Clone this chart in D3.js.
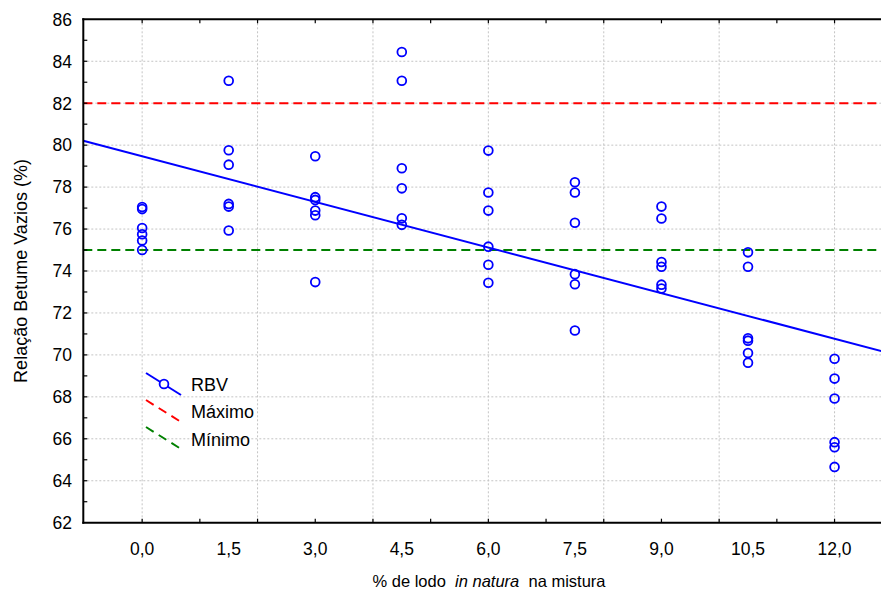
<!DOCTYPE html>
<html>
<head>
<meta charset="utf-8">
<script src="https://cdn.jsdelivr.net/npm/d3@7"></script>
<style>
  html, body { margin: 0; padding: 0; background: #fff; }
  svg { display: block; font-family: "Liberation Sans", Arial, sans-serif; }
</style>
</head>
<body>
<svg id="chart" width="881" height="591"></svg>
<script>
// ---- data ----
const xLevels = [0, 1.5, 3.0, 4.5, 6.0, 7.5, 9.0, 10.5, 12.0];
const rbv0   = [77.05, 76.95, 76.05, 75.75, 75.45, 75.0];
const rbv15  = [83.07, 79.76, 79.07, 77.2, 77.07, 75.93];
const rbv30  = [79.47, 77.52, 77.39, 76.88, 76.66, 73.47];
const rbv45  = [84.44, 83.07, 78.9, 77.94, 76.51, 76.2];
const rbv60  = [79.74, 77.74, 76.88, 75.16, 74.3, 73.44];
const rbv75  = [78.23, 77.74, 76.3, 73.85, 73.37, 71.16];
const rbv90  = [77.07, 76.5, 74.43, 74.2, 73.35, 73.16];
const rbv105 = [74.89, 74.2, 70.79, 70.68, 70.09, 69.63];
const rbv120 = [69.82, 68.87, 67.92, 65.84, 65.6, 64.66];
const rbvGroups = [rbv0, rbv15, rbv30, rbv45, rbv60, rbv75, rbv90, rbv105, rbv120];
const maxLimit = 82;
const minLimit = 75;
const xTickLabels = [0, 1.5, 3.0, 4.5, 6.0, 7.5, 9.0, 10.5, 12.0];
const yTickLabels = [62, 64, 66, 68, 70, 72, 74, 76, 78, 80, 82, 84, 86];
const legendNames = ["RBV", "Máximo", "Mínimo"];

// ---- layout ----
const svg = d3.select("#chart");
const L = 83.3, T = 19.3, B = 522.7;
const x = d3.scaleLinear().domain([-1.02, 13]).range([L, L + 14.02 * 57.7]);
const y = d3.scaleLinear().domain([62, 86]).range([B, T]);
const R = x.range()[1];
const FS = 17.5;

const points = [];
xLevels.forEach((xv, i) => rbvGroups[i].forEach(v => points.push({x: xv, y: v})));

// least squares fit
const mx = d3.mean(points, d => d.x), my = d3.mean(points, d => d.y);
const sxy = d3.sum(points, d => (d.x - mx) * (d.y - my));
const sxx = d3.sum(points, d => (d.x - mx) ** 2);
const slope = sxy / sxx, intercept = my - slope * mx;

svg.append("defs").append("clipPath").attr("id", "clip")
  .append("rect").attr("x", L).attr("y", T).attr("width", R - L).attr("height", B - T);

const plot = svg.append("g").attr("clip-path", "url(#clip)");

// gridlines
const gridStyle = sel => sel.attr("stroke", "#c4c4c4").attr("stroke-width", 1).attr("stroke-dasharray", "2,2");
plot.selectAll(".gy").data(d3.range(64, 86, 2)).join("line")
  .attr("x1", L).attr("x2", R).attr("y1", d => y(d)).attr("y2", d => y(d)).call(gridStyle);
plot.selectAll(".gx").data(d3.range(0, 13, 2)).join("line")
  .attr("y1", T).attr("y2", B).attr("x1", d => x(d)).attr("x2", d => x(d)).call(gridStyle);

// limit lines
plot.append("line").attr("x1", L).attr("x2", R).attr("y1", y(maxLimit)).attr("y2", y(maxLimit))
  .attr("stroke", "#ff0000").attr("stroke-width", 2).attr("stroke-dasharray", "9,5");
plot.append("line").attr("x1", L).attr("x2", R).attr("y1", y(minLimit)).attr("y2", y(minLimit))
  .attr("stroke", "#008000").attr("stroke-width", 2).attr("stroke-dasharray", "9,5");

// regression line
const [d0, d1] = x.domain();
plot.append("line")
  .attr("x1", x(d0)).attr("y1", y(intercept + slope * d0))
  .attr("x2", x(d1)).attr("y2", y(intercept + slope * d1))
  .attr("stroke", "#0000ff").attr("stroke-width", 2);

// points
plot.selectAll(".pt").data(points).join("circle")
  .attr("cx", d => x(d.x)).attr("cy", d => y(d.y)).attr("r", 4.4)
  .attr("fill", "none").attr("stroke", "#0000ff").attr("stroke-width", 1.8);

// frame
const frame = svg.append("g").attr("stroke", "#000").attr("stroke-width", 2);
frame.append("line").attr("x1", L).attr("x2", L).attr("y1", T - 1).attr("y2", B + 1);
frame.append("line").attr("x1", L - 1).attr("x2", R).attr("y1", B).attr("y2", B);
frame.append("line").attr("x1", L - 1).attr("x2", R).attr("y1", T).attr("y2", T);

// tick marks (inward)
const ticks = svg.append("g").attr("stroke", "#000").attr("stroke-width", 1.2);
d3.range(0, 14).forEach(v => {
  ticks.append("line").attr("x1", x(v)).attr("x2", x(v)).attr("y1", B).attr("y2", B - 4);
  ticks.append("line").attr("x1", x(v)).attr("x2", x(v)).attr("y1", T).attr("y2", T + 4);
});
d3.range(63, 86).forEach(v => {
  ticks.append("line").attr("x1", L).attr("x2", L + 4).attr("y1", y(v)).attr("y2", y(v));
});

// tick labels
const fmt = v => d3.format(".1f")(v).replace(".", ",");
svg.append("g").selectAll("text").data(xTickLabels).join("text")
  .attr("x", d => x(d)).attr("y", 555).attr("text-anchor", "middle")
  .attr("font-size", FS).attr("fill", "#000").text(fmt);
svg.append("g").selectAll("text").data(yTickLabels).join("text")
  .attr("x", 72).attr("y", d => y(d) + 6.3).attr("text-anchor", "end")
  .attr("font-size", FS).attr("fill", "#000").text(d => d);

// axis titles
svg.append("text").attr("transform", "translate(27,271) rotate(-90)")
  .attr("text-anchor", "middle").attr("font-size", 18).attr("fill", "#000")
  .text("Relação Betume Vazios (%)");
const xt = svg.append("text").attr("x", 489).attr("y", 587).attr("text-anchor", "middle")
  .attr("font-size", 16.5).attr("fill", "#000").attr("xml:space", "preserve");
xt.append("tspan").text("% de lodo  ");
xt.append("tspan").attr("font-style", "italic").text("in natura");
xt.append("tspan").text("  na mistura");

// legend
const lg = svg.append("g");
lg.append("line").attr("x1", 146).attr("y1", 373).attr("x2", 181).attr("y2", 395)
  .attr("stroke", "#0000ff").attr("stroke-width", 2);
lg.append("circle").attr("cx", 164).attr("cy", 384).attr("r", 4.4)
  .attr("fill", "#fff").attr("stroke", "#0000ff").attr("stroke-width", 1.8);
lg.append("line").attr("x1", 146).attr("y1", 400).attr("x2", 181).attr("y2", 422)
  .attr("stroke", "#ff0000").attr("stroke-width", 2).attr("stroke-dasharray", "9,6");
lg.append("line").attr("x1", 146).attr("y1", 427).attr("x2", 181).attr("y2", 449)
  .attr("stroke", "#008000").attr("stroke-width", 2).attr("stroke-dasharray", "9,6");
lg.selectAll("text").data(legendNames).join("text")
  .attr("x", 191).attr("y", (d, i) => 390.5 + i * 27.5)
  .attr("font-size", 18).attr("fill", "#000").text(d => d);
</script>
</body>
</html>
